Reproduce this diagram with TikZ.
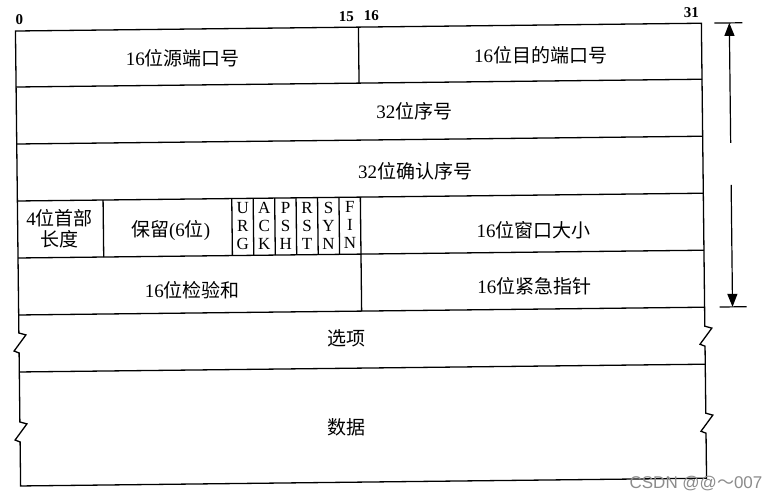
\documentclass[tikz,border=0pt]{standalone}
\usepackage{fontspec}
\setmainfont{Liberation Serif}
\newfontfamily\cjk{Noto Sans CJK SC}
\newfontfamily\wmfont{Liberation Sans}
\usetikzlibrary{arrows.meta}
\newcommand\myzh[1]{{\cjk #1}}
\begin{document}
\begin{tikzpicture}[x=1pt,y=-1pt,
  frame/.style={line width=1.3pt, line join=miter},
  txt/.style={font=\fontsize{19}{21}\selectfont, inner sep=0pt, align=center},
  flag/.style={font=\fontsize{17}{18}\selectfont, align=center, inner sep=0pt},
  bitno/.style={font=\fontsize{15}{16}\selectfont\bfseries, inner sep=0pt},
  arr/.style={line width=1.2pt, -{Triangle[length=13pt,width=10pt]}},
  tick/.style={line width=1.2pt},
  wm/.style={font=\wmfont\fontsize{17}{18}\selectfont, text=black!45, inner sep=0pt}
  ]
\useasboundingbox (0,0) rectangle (782,500);
\fill[white] (0,0) rectangle (782,500);
\begin{scope}[rotate around={0.65:(370,255)}]
% outer frame with break marks
\draw[frame] (18,27) -- (704,27) -- (704,330) -- (711,332) -- (699,348) -- (704,350)
  -- (704,417) -- (711,419) -- (699,435) -- (704,437) -- (704,482) -- (18,482)
  -- (18,438) -- (13,436) -- (25,420) -- (18,418) -- (18,349) -- (13,347)
  -- (25,331) -- (18,329) -- cycle;
% row separators
\foreach \y in {83,140,197,254,311,368} \draw[frame] (18,\y) -- (704,\y);
% vertical separators
\draw[frame] (361,27) -- (361,83);
\draw[frame] (361,197) -- (361,311);
\foreach \x in {103.7,232.4,253.8,275.3,296.7,318.2,339.6} \draw[frame] (\x,197) -- (\x,254);
% bit numbers
\node[bitno] (b0) at (22,16) {0};
\node[bitno] (b15) at (349,16) {15};
\node[bitno] (b16) at (374,16) {16};
\node[bitno] (b31) at (694,16) {31};
% texts
\node[txt] (srcport) at (185,56) {16\myzh{位源端口号}};
\node[txt] (dstport) at (543,57) {16\myzh{位目的端口号}};
\node[txt] (seq) at (416,112) {32\myzh{位序号}};
\node[txt] (ack) at (416,172) {32\myzh{位确认序号}};
\node[txt] (hlen) at (60,225) {4\myzh{位首部}\\\myzh{长度}};
\node[txt] (resv) at (171,228) {\myzh{保留}(6\myzh{位})};
\node[flag] (urg) at (243.1,225) {U\\R\\G};
\node[flag] (fack) at (264.55,225) {A\\C\\K};
\node[flag] (psh) at (286,225) {P\\S\\H};
\node[flag] (rst) at (307.45,225) {R\\S\\T};
\node[flag] (syn) at (328.9,225) {S\\Y\\N};
\node[flag] (fin) at (350.3,225) {F\\I\\N};
\node[txt] (win) at (534,232) {16\myzh{位窗口大小}};
\node[txt] (chk) at (192,288) {16\myzh{位检验和}};
\node[txt] (urgp) at (534,288) {16\myzh{位紧急指针}};
\node[txt] (opt) at (346,338) {\myzh{选项}};
\node[txt] (data) at (345,427) {\myzh{数据}};
% header-size arrows
\coordinate (t1l) at (717,27); \coordinate (t1r) at (745,27);
\coordinate (t2l) at (719,311); \coordinate (t2r) at (746,311);
\coordinate (ua) at (732,27); \coordinate (ub) at (732,147);
\coordinate (da) at (732,189); \coordinate (db) at (732,311);
\draw[tick] (t1l) -- (t1r);
\draw[tick] (t2l) -- (t2r);
\draw[arr] (ub) -- (ua);
\draw[arr] (da) -- (db);
\end{scope}
\node[wm] (wmk) at (696,484) {CSDN @@\myzh{～}007};
\end{tikzpicture}
\end{document}
